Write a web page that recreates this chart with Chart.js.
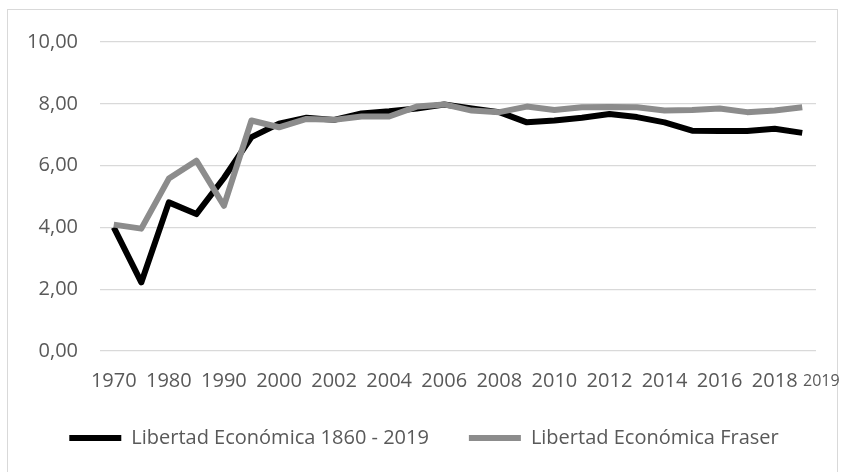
<!DOCTYPE html>
<html>
<head>
<meta charset="utf-8">
<script src="https://cdn.jsdelivr.net/npm/chart.js@4.4.1/dist/chart.umd.min.js"></script>
<style>
  html, body { margin: 0; padding: 0; background: #fff; overflow: hidden; }
  #marco { position: absolute; left: 7px; top: 9px; width: 829px; height: 480px; border: 1px solid #d9d9d9; }
  #envoltorio { position: absolute; left: 0; top: 0; width: 844px; height: 472px; }
</style>
</head>
<body>
<div id="marco"></div>
<div id="envoltorio"><canvas id="grafico"></canvas></div>
<script>
// años (1970-1995 cada 5 años, luego anual)
const anos = ['1970', '1975', '1980', '1985', '1990', '1995', '2000', '2001', '2002', '2003',
    '2004', '2005', '2006', '2007', '2008', '2009', '2010', '2011', '2012', '2013',
    '2014', '2015', '2016', '2017', '2018', '2019'];

const libertad1860 = [4.00, 2.22, 4.81, 4.43, 5.60, 6.92, 7.36, 7.55, 7.48, 7.69,
    7.76, 7.85, 7.98, 7.85, 7.73, 7.40, 7.46, 7.55, 7.67, 7.57,
    7.40, 7.13, 7.12, 7.12, 7.19, 7.06];

const libertadFraser = [4.09, 3.96, 5.58, 6.16, 4.70, 7.46, 7.24, 7.51, 7.48, 7.59,
    7.59, 7.91, 7.98, 7.78, 7.73, 7.91, 7.80, 7.89, 7.90, 7.89,
    7.78, 7.80, 7.85, 7.73, 7.78, 7.89];

const ticksY = [0, 2, 4, 6, 8, 10];

const fuente = "'Open Sans', 'DejaVu Sans', sans-serif";
const grisTexto = '#595959';

// la etiqueta 2019 va aparte, al final del eje, como en el original
const ultimoAno = {
    id: 'ultimoAno',
    afterLayout(chart) {
        // la leyenda del original queda un poco a la derecha
        chart.legend.left += 16;
        chart.legend.right += 16;
    },
    afterDraw(chart) {
        const ctx = chart.ctx;
        const x = chart.scales.x;
        ctx.save();
        ctx.font = "16px " + fuente;
        ctx.fillStyle = grisTexto;
        ctx.textAlign = 'left';
        ctx.textBaseline = 'middle';
        ctx.fillText(anos[anos.length - 1], x.right - 13, x.top + 30);
        ctx.restore();
    }
};

new Chart(document.getElementById('grafico'), {
    type: 'line',
    data: {
        labels: anos,
        datasets: [{
            label: 'Libertad Económica 1860 - 2019',
            data: libertad1860,
            borderColor: '#000000',
            backgroundColor: '#000000',
            borderWidth: 6,
            pointRadius: 0,
            tension: 0,
            borderJoinStyle: 'round',
            order: 2
        }, {
            label: 'Libertad Económica Fraser',
            data: libertadFraser,
            borderColor: '#8c8c8c',
            backgroundColor: '#8c8c8c',
            borderWidth: 6,
            pointRadius: 0,
            tension: 0,
            borderJoinStyle: 'round',
            order: 1
        }]
    },
    options: {
        responsive: true,
        maintainAspectRatio: false,
        animation: false,
        layout: { padding: { top: 42, right: 28, left: 0, bottom: 14 } },
        plugins: {
            tooltip: { enabled: false },
            legend: {
                position: 'bottom',
                labels: {
                    usePointStyle: true,
                    pointStyle: 'line',
                    pointStyleWidth: 52,
                    boxHeight: 20,
                    padding: 40,
                    color: grisTexto,
                    font: { family: fuente, size: 20 },
                    sort: (a, b) => a.datasetIndex - b.datasetIndex
                }
            }
        },
        scales: {
            x: {
                offset: true,
                grid: { display: false },
                border: { display: false },
                afterFit(scale) { scale.height = 37; },
                ticks: {
                    autoSkip: false,
                    maxRotation: 0,
                    padding: 10,
                    color: grisTexto,
                    font: { family: fuente, size: 20 },
                    callback: (v, i) => (i % 2 === 0 && i < anos.length - 1) ? anos[i] : ''
                }
            },
            y: {
                min: 0,
                max: 10,
                afterFit(scale) { scale.width = 100; },
                afterBuildTicks(scale) { scale.ticks = ticksY.map(v => ({ value: v })); },
                grid: { color: '#d9d9d9', lineWidth: 1.3, drawTicks: false },
                border: { display: false },
                ticks: {
                    padding: 22,
                    color: grisTexto,
                    font: { family: fuente, size: 20 },
                    callback: v => v.toFixed(2).replace('.', ',')
                }
            }
        }
    },
    plugins: [ultimoAno]
});
</script>
</body>
</html>
